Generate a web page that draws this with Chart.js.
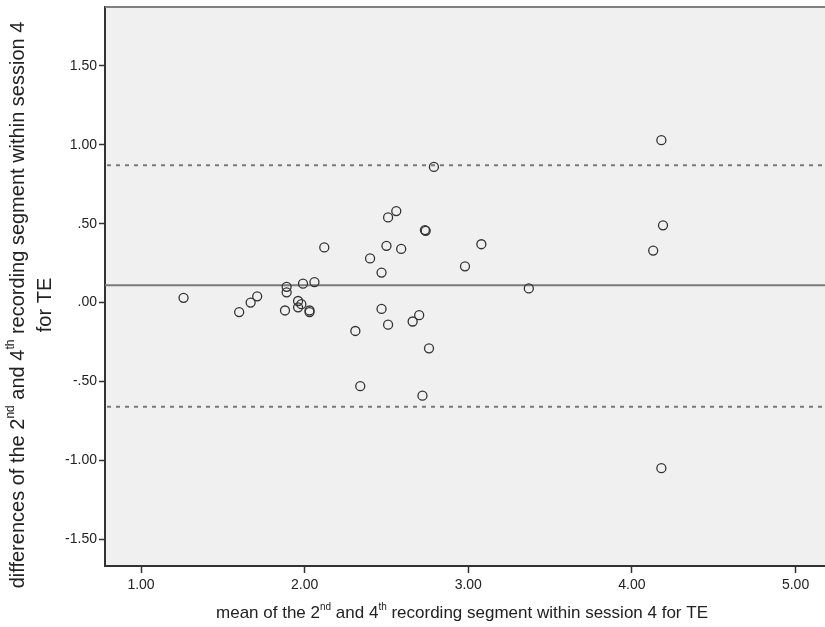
<!DOCTYPE html>
<html>
<head>
<meta charset="utf-8">
<script src="https://cdn.jsdelivr.net/npm/chart.js@4/dist/chart.umd.min.js"></script>
<style>
  html, body { margin: 0; padding: 0; background: #ffffff; }
</style>
</head>
<body>
<canvas id="BlandAltmanChart" width="825" height="627"></canvas>
<script>
(function () {
  "use strict";

  // data (mean, difference)
  const meanValues = [
    1.26, 1.60, 1.67, 1.71, 1.89, 1.89, 1.88, 1.96, 1.98, 1.96,
    1.99, 2.03, 2.03, 2.06, 2.12, 2.31, 2.34, 2.40, 2.47, 2.47,
    2.50, 2.51, 2.51, 2.56, 2.59, 2.66, 2.70, 2.72, 2.735, 2.74,
    2.76, 2.79, 2.98, 3.08, 3.37, 4.13, 4.18, 4.19, 4.18
  ];
  const diffValues = [
    0.03, -0.06, 0.00, 0.04, 0.10, 0.065, -0.05, 0.01, -0.01, -0.03,
    0.12, -0.05, -0.06, 0.13, 0.35, -0.18, -0.53, 0.28, -0.04, 0.19,
    0.36, 0.54, -0.14, 0.58, 0.34, -0.12, -0.08, -0.59, 0.46, 0.455,
    -0.29, 0.86, 0.23, 0.37, 0.09, 0.33, 1.03, 0.49, -1.05
  ];
  const xTicks = [1, 2, 3, 4, 5];
  const yTicks = [-1.5, -1, -0.5, 0, 0.5, 1, 1.5];

  // reference lines
  const meanDiff = 0.11;
  const upperLimit = 0.87;
  const lowerLimit = -0.66;

  // axis titles, with superscript pieces
  const xTitle = [['mean of the 2', false], ['nd', true], [' and 4', false], ['th', true],
                  [' recording segment within session 4 for TE', false]];
  const yTitle1 = [['differences of the 2', false], ['nd', true], [' and 4', false], ['th', true],
                   [' recording segment within session 4', false]];
  const yTitle2 = [['for TE', false]];

  const fontFamily = '"Liberation Sans", Arial, Helvetica, sans-serif';
  const text_color = '#222222';
  const axis_color = '#333333';
  const line_gray = '#7a7a7a';
  const plot_bg = '#f0f0f0';

  // SPSS style labels: 0.50 -> .50, -0.50 -> -.50
  function fmt(v) {
    return Number(v).toFixed(2).replace(/^(-?)0\./, '$1.');
  }

  function drawRich(ctx, parts, cx, cy, size) {
    const big = size + 'px ' + fontFamily;
    const small = Math.round(size * 0.6) + 'px ' + fontFamily;
    let total = 0;
    parts.forEach(p => {
      ctx.font = p[1] ? small : big;
      total += ctx.measureText(p[0]).width;
    });
    let x = cx - total / 2;
    ctx.textAlign = 'left';
    ctx.textBaseline = 'middle';
    parts.forEach(p => {
      ctx.font = p[1] ? small : big;
      ctx.fillText(p[0], x, p[1] ? cy - size * 0.35 : cy);
      x += ctx.measureText(p[0]).width;
    });
  }

  const blandAltmanPlugin = {
    id: 'blandAltman',
    beforeDraw(chart) {
      const a = chart.chartArea;
      const ctx = chart.ctx;
      ctx.save();
      ctx.fillStyle = plot_bg;
      ctx.fillRect(a.left, a.top, a.right - a.left, a.bottom - a.top);
      ctx.restore();
    },
    beforeDatasetsDraw(chart) {
      const a = chart.chartArea;
      const ctx = chart.ctx;
      const y = chart.scales.y;
      ctx.save();
      ctx.strokeStyle = line_gray;
      ctx.lineWidth = 2;
      // mean line
      let py = y.getPixelForValue(meanDiff);
      ctx.beginPath();
      ctx.moveTo(a.left, py);
      ctx.lineTo(a.right, py);
      ctx.stroke();
      // limits of agreement
      ctx.setLineDash([4, 5]);
      [upperLimit, lowerLimit].forEach(v => {
        py = y.getPixelForValue(v);
        ctx.beginPath();
        ctx.moveTo(a.left + 2, py);
        ctx.lineTo(a.right, py);
        ctx.stroke();
      });
      ctx.restore();
    },
    afterDraw(chart) {
      const a = chart.chartArea;
      const ctx = chart.ctx;
      ctx.save();
      // top frame line
      ctx.strokeStyle = '#808080';
      ctx.lineWidth = 2;
      ctx.beginPath();
      ctx.moveTo(a.left, a.top);
      ctx.lineTo(a.right, a.top);
      ctx.stroke();
      // axis titles
      ctx.fillStyle = text_color;
      drawRich(ctx, xTitle, 462, 613, 17);
      ctx.translate(18, 305);
      ctx.rotate(-Math.PI / 2);
      drawRich(ctx, yTitle1, 0, 0, 20);
      drawRich(ctx, yTitle2, 0, 27, 20);
      ctx.restore();
    }
  };

  const ctx = document.getElementById('BlandAltmanChart').getContext('2d');
  const points = meanValues.map((m, i) => ({ x: m, y: diffValues[i] }));

  new Chart(ctx, {
    type: 'scatter',
    data: {
      datasets: [{
        label: 'difference',
        data: points,
        pointStyle: 'circle',
        pointRadius: 4.5,
        pointHoverRadius: 4.5,
        pointBackgroundColor: 'rgba(0,0,0,0)',
        pointBorderColor: axis_color,
        pointBorderWidth: 1.3
      }]
    },
    options: {
      responsive: false,
      devicePixelRatio: 1,
      animation: false,
      layout: {
        autoPadding: false,
        padding: { top: 7, right: 0, left: 0, bottom: 0 }
      },
      plugins: {
        legend: { display: false },
        tooltip: { enabled: false }
      },
      scales: {
        x: {
          type: 'linear',
          min: 0.78,
          max: 5.18,
          afterBuildTicks: s => { s.ticks = xTicks.map(v => ({ value: v })); },
          afterFit: s => { s.height = 61; s.paddingLeft = 0; s.paddingRight = 0; },
          ticks: {
            callback: fmt,
            color: text_color,
            font: { family: fontFamily, size: 14 },
            padding: 4,
            maxRotation: 0,
            autoSkip: false
          },
          grid: {
            display: true,
            drawOnChartArea: false,
            drawTicks: true,
            tickLength: 7,
            tickColor: axis_color,
            tickWidth: 1.5
          },
          border: { display: true, color: axis_color, width: 2 }
        },
        y: {
          type: 'linear',
          min: -1.67,
          max: 1.874,
          afterBuildTicks: s => { s.ticks = yTicks.map(v => ({ value: v })); },
          afterFit: s => { s.width = 105; s.paddingTop = 0; s.paddingBottom = 0; },
          ticks: {
            callback: fmt,
            color: text_color,
            font: { family: fontFamily, size: 14 },
            padding: 2,
            autoSkip: false
          },
          grid: {
            display: true,
            drawOnChartArea: false,
            drawTicks: true,
            tickLength: 6,
            tickColor: axis_color,
            tickWidth: 1.5
          },
          border: { display: true, color: axis_color, width: 2 }
        }
      }
    },
    plugins: [blandAltmanPlugin]
  });
})();
</script>
</body>
</html>
